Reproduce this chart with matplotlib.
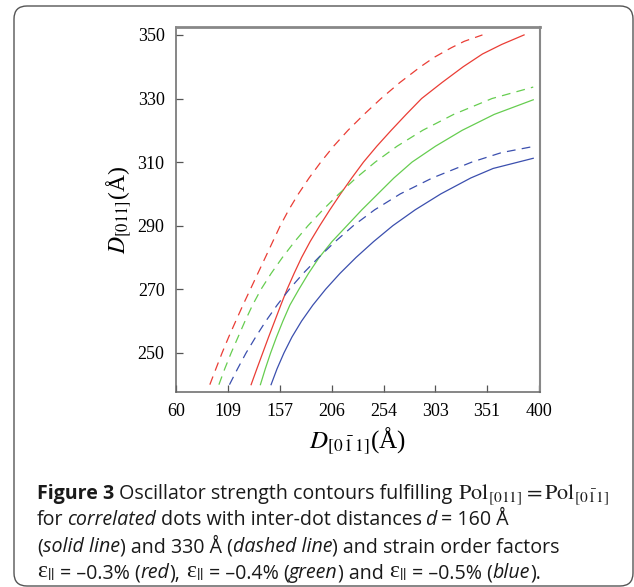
import numpy as np
import matplotlib
matplotlib.use("Agg")
import matplotlib.pyplot as plt
from matplotlib.patches import FancyBboxPatch

plt.rcParams['mathtext.fontset'] = 'stix'
plt.rcParams['font.family'] = ['Liberation Serif', 'DejaVu Serif']

# contour points, D[0-11] (x) against D[011] (y), in Angstrom
# d = 160 A (solid) and d = 330 A (dashed) for eps = -0.3, -0.4, -0.5 %
red_solid_y = [240, 245, 250, 255, 260, 265, 270, 275, 280, 285, 290, 295, 300,
               305, 310, 315, 320, 325, 330, 335, 340, 344, 347, 350]
red_solid_x = [130.2, 135.6, 141.1, 146.6, 152.3, 158.0, 163.9, 170.5, 177.5, 185.5,
               194.5, 204.0, 214.0, 224.5, 235.5, 248.0, 261.5, 275.5, 290.0, 309.0,
               329.0, 347.0, 365.0, 386.0]
red_dash_y = [240, 245, 250, 255, 260, 265, 270, 275, 280, 285, 290, 295, 300,
              305, 310, 315, 320, 325, 330, 335, 340, 343, 346, 348, 350]
red_dash_x = [91.5, 97.2, 103.0, 109.2, 115.8, 122.5, 129.5, 136.5, 143.5, 150.5,
              157.5, 165.5, 174.5, 184.5, 195.5, 207.5, 221.0, 236.0, 252.0, 269.5,
              289.0, 302.0, 318.0, 330.0, 347.0]

green_solid_y = [240, 245, 250, 255, 260, 265, 270, 275, 280, 285, 290, 295, 300,
                 305, 310, 315, 320, 325, 329.6]
green_solid_x = [138.9, 143.5, 148.5, 154.0, 160.0, 166.5, 175.0, 184.0, 194.0, 206.0,
                 220.0, 234.0, 249.0, 264.0, 281.0, 303.0, 328.0, 358.0, 394.6]
green_dash_y = [240, 245, 250, 255, 260, 265, 270, 275, 280, 285, 290, 295, 300,
                305, 310, 315, 320, 325, 330, 333.6]
green_dash_x = [100.0, 105.5, 111.5, 118.0, 124.5, 131.5, 139.5, 149.0, 159.5, 171.0,
                183.5, 197.5, 212.5, 228.5, 246.5, 267.0, 291.0, 320.0, 356.0, 394.6]

blue_solid_y = [240, 245, 250, 255, 260, 265, 270, 275, 280, 285, 290, 295, 300,
                305, 308, 311.2]
blue_solid_x = [148.9, 154.5, 161.0, 168.5, 177.5, 188.0, 200.0, 213.5, 228.5, 245.0,
                263.0, 284.0, 308.0, 336.0, 357.0, 394.6]
blue_dash_y = [240, 245, 250, 255, 260, 265, 270, 275, 280, 285, 290, 295, 300,
               305, 310, 313, 314.9]
blue_dash_x = [109.9, 117.5, 125.5, 134.5, 144.0, 154.5, 166.0, 179.0, 193.5, 209.0,
               226.0, 246.0, 270.0, 300.0, 337.0, 365.0, 394.6]

x_ticks = np.linspace(60, 400, 8)
x_ticklabels = ['60', '109', '157', '206', '254', '303', '351', '400']
y_ticks = [250, 270, 290, 310, 330, 350]

RED = '#ea3d35'
GREEN = '#66cd50'
BLUE = '#3b4fae'

fig = plt.figure(figsize=(6.34, 5.87), dpi=100)
ax = fig.add_axes([0.2771, 0.3317, 0.5739, 0.6218])

for xs, ys, c in [(red_solid_x, red_solid_y, RED),
                  (green_solid_x, green_solid_y, GREEN),
                  (blue_solid_x, blue_solid_y, BLUE)]:
    ax.plot(xs, ys, color=c, lw=0.9)
for xs, ys, c in [(red_dash_x, red_dash_y, RED),
                  (green_dash_x, green_dash_y, GREEN),
                  (blue_dash_x, blue_dash_y, BLUE)]:
    ax.plot(xs, ys, color=c, lw=0.9, dashes=(7, 5))

ax.set_xlim(59.5, 400.5)
ax.set_ylim(237.6, 352.4)
ax.set_xticks(x_ticks)
ax.set_xticklabels(x_ticklabels)
ax.set_yticks(y_ticks)
ax.tick_params(direction='in', length=5, width=0.9, color='#555555',
               labelsize=13, pad=8, top=False, right=False)
for side, s in ax.spines.items():
    s.set_color('#666666')
    s.set_linewidth(1.1)
ax.spines['top'].set_color('#888888')
ax.spines['top'].set_linewidth(2.0)
ax.spines['right'].set_color('#888888')
ax.spines['right'].set_linewidth(1.5)

ax.set_xlabel(r'$D_{[0\,\bar{1}\,1]}$(Å)', fontsize=18, labelpad=4)
ax.set_ylabel(r'$D_{[011]}$(Å)', fontsize=17, labelpad=3)

# rounded frame round the whole figure
frame = FancyBboxPatch((0.14, 0.01), 6.19, 5.80,
                       boxstyle='round,pad=0,rounding_size=0.13',
                       transform=fig.dpi_scale_trans, fill=False,
                       edgecolor='#555555', lw=1.0)
fig.patches.append(frame)

# caption, laid out run by run
renderer = fig.canvas.get_renderer()
cap = dict(family=['Open Sans', 'DejaVu Sans'], fontsize=14.1, color='#1a1a1a')
styles = {
    'b': dict(cap, weight='bold'),
    'n': dict(cap),
    'i': dict(cap, style='italic'),
    'm': dict(cap, family=['Liberation Serif', 'DejaVu Serif'], fontsize=16),
    'e': dict(cap, family=['Liberation Serif', 'DejaVu Serif'], fontsize=17),
}


def text_width(s, kw):
    t = fig.text(0, 0, s, **kw)
    w = t.get_window_extent(renderer).width
    t.remove()
    return w


space = text_width('x x', styles['n']) - text_width('xx', styles['n'])


def put_line(x_px, y_px, runs):
    x = x_px
    prev_gap = 0
    for s, st, gap in runs:
        # italic words after a space sit a little too far right
        if st == 'i' and prev_gap:
            x -= 2
        t = fig.text(x / 634, 1 - y_px / 587, s, va='baseline', **styles[st])
        x += t.get_window_extent(renderer).width + gap * space
        prev_gap = gap


eps = r'ε$_{||}$'
put_line(37, 499, [('Figure 3', 'b', 1),
                   ('Oscillator strength contours fulfilling', 'n', 1),
                   (r'$\mathrm{Pol}_{[011]} = \mathrm{Pol}_{[0\bar{1}1]}$', 'm', 0)])
put_line(37, 525, [('for', 'n', 1), ('correlated', 'i', 1),
                   ('dots with inter-dot distances', 'n', 1), ('d', 'i', 1),
                   ('= 160 Å', 'n', 0)])
put_line(37, 552, [('(', 'n', 0), ('solid line', 'i', 0),
                   (') and 330 Å (', 'n', 0), ('dashed line', 'i', 0),
                   (') and strain order factors', 'n', 0)])
put_line(37, 578, [(eps, 'e', 1), ('= –0.3% (', 'n', 0), ('red', 'i', 0), ('),', 'n', 1),
                   (eps, 'e', 1), ('= –0.4% (', 'n', 0), ('green', 'i', 0), (') and', 'n', 1),
                   (eps, 'e', 1), ('= –0.5% (', 'n', 0), ('blue', 'i', 0), (').', 'n', 0)])

fig.savefig('out.png', dpi=100)
